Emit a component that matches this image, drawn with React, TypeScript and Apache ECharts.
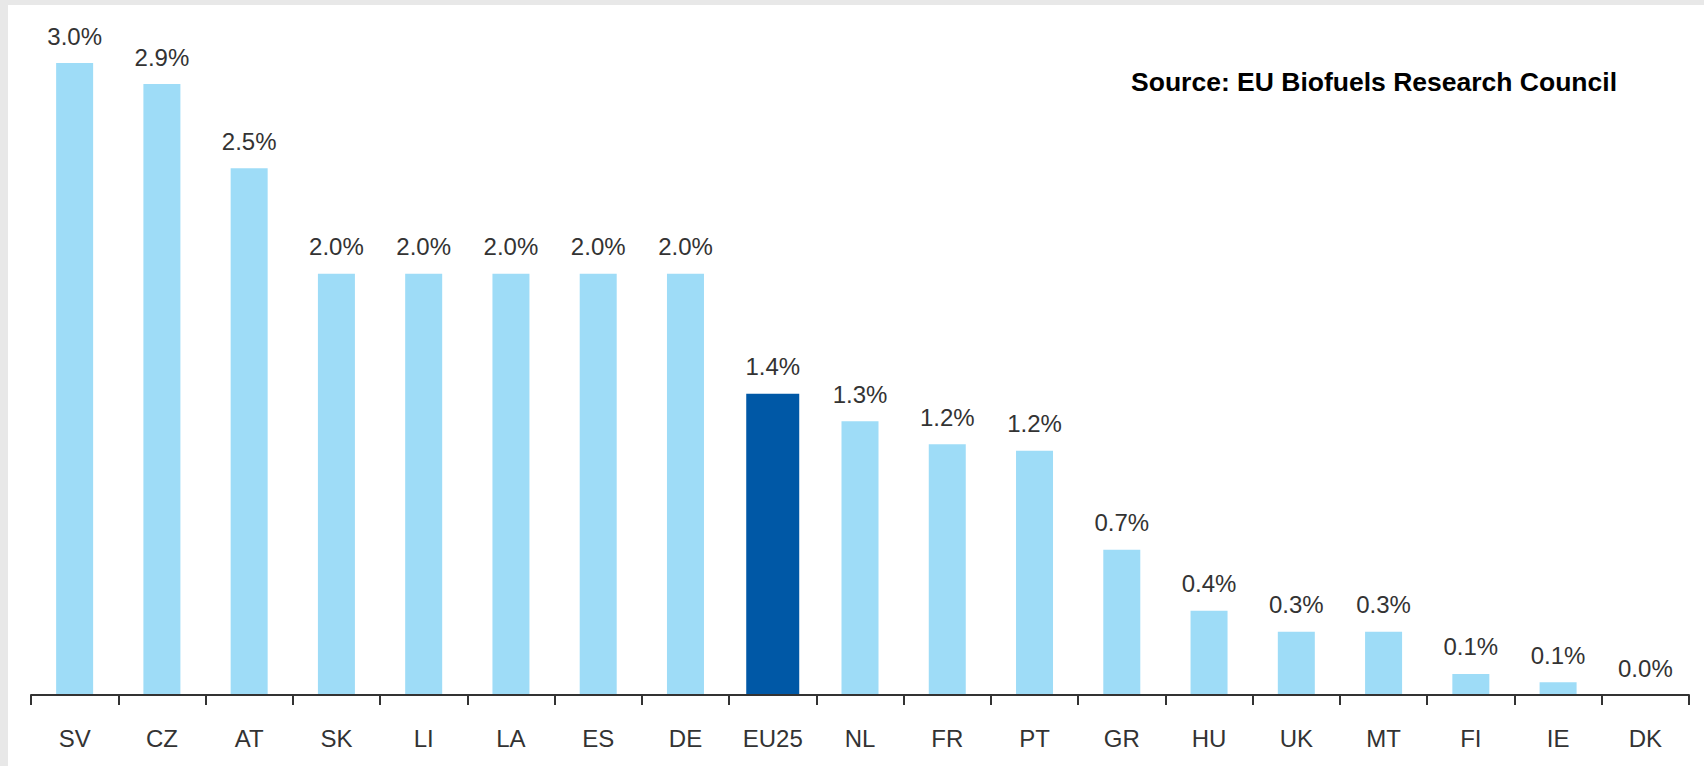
import React, { useEffect, useRef } from "react";
import * as echarts from "echarts";

const categories = ["SV", "CZ", "AT", "SK", "LI", "LA", "ES", "DE", "EU25", "NL", "FR", "PT", "GR", "HU", "UK", "MT", "FI", "IE", "DK"];
const shareValues = [3.0, 2.9, 2.5, 2.0, 2.0, 2.0, 2.0, 2.0, 1.43, 1.3, 1.19, 1.16, 0.69, 0.4, 0.3, 0.3, 0.1, 0.06, 0.0];
const highlightCategory = "EU25";
const sourceText = "Source: EU Biofuels Research Council";

const FONT = "'Liberation Sans', Arial, Helvetica, sans-serif";

export default function App() {
  const ref = useRef<HTMLDivElement>(null);

  useEffect(() => {
    if (!ref.current) return;
    const chart = echarts.init(ref.current, undefined, { renderer: "svg" });

    const lightData = shareValues.map((v, i) => (categories[i] === highlightCategory ? "-" : v));
    const darkData = shareValues.map((v, i) => (categories[i] === highlightCategory ? v : "-"));

    const labelCfg = {
      show: true,
      position: "top",
      distance: 15,
      color: "#333",
      fontSize: 24,
      fontFamily: FONT,
      formatter: (p: any) => Number(p.value).toFixed(1) + "%",
    };

    chart.setOption({
      animation: false,
      backgroundColor: "#ffffff",
      grid: { left: 23, right: 15, top: 58, bottom: 71, containLabel: false },
      xAxis: [
        {
          type: "category",
          data: categories,
          boundaryGap: true,
          axisLine: { show: true, lineStyle: { color: "#333", width: 2 } },
          axisTick: { show: true, length: 10, lineStyle: { color: "#333", width: 2 } },
          axisLabel: { color: "#333", fontSize: 24, fontFamily: FONT, margin: 31, interval: 0 },
          splitLine: { show: false },
          z: 5,
        },
        {
          type: "category",
          data: categories,
          show: false,
        },
      ],
      yAxis: {
        type: "value",
        min: 0,
        max: 3.0,
        show: false,
        splitLine: { show: false },
      },
      series: [
        {
          type: "bar",
          xAxisIndex: 0,
          data: lightData,
          barWidth: 37,
          itemStyle: { color: "#9edcf7" },
          label: labelCfg,
        },
        {
          type: "bar",
          xAxisIndex: 1,
          data: darkData,
          barWidth: 53,
          itemStyle: { color: "#0058a6" },
          label: labelCfg,
        },
      ],
      graphic: [
        {
          type: "text",
          right: 87,
          top: 63,
          style: {
            text: sourceText,
            fill: "#000",
            font: `bold 26.5px ${FONT}`,
          },
        },
      ],
    });

    return () => chart.dispose();
  }, []);

  return (
    <div style={{ position: "fixed", left: 0, top: 0, width: 1704, height: 766, background: "#e8e8e8" }}>
      <div ref={ref} style={{ position: "absolute", left: 8, top: 5, width: 1696, height: 761, background: "#fff" }} />
    </div>
  );
}
